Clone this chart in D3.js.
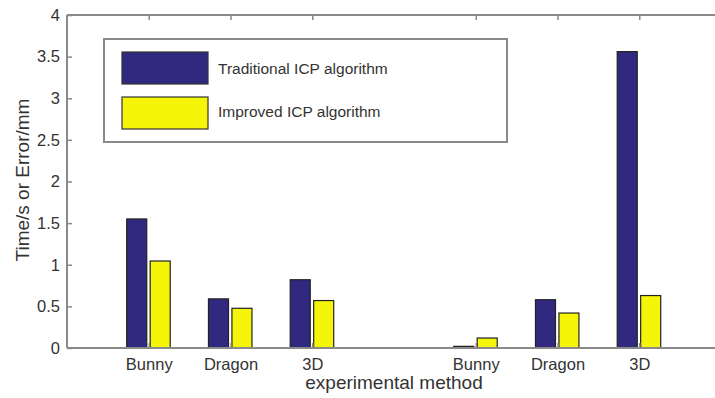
<!DOCTYPE html>
<html>
<head>
<meta charset="utf-8">
<script src="https://cdn.jsdelivr.net/npm/d3@7"></script>
<style>
  body { margin: 0; background: #fff; }
  text { font-family: "Liberation Sans", Arial, sans-serif; }
</style>
</head>
<body>
<svg width="715" height="398"></svg>
<script>
// x positions 1..7, slot 4 is the empty gap between the two groups
var positions = [1, 2, 3, 5, 6, 7]
var categories = ['Bunny', 'Dragon', '3D', 'Bunny', 'Dragon', '3D']
var traditional = [1.55, 0.59, 0.82, 0.02, 0.58, 3.56]
var improved = [1.045, 0.477, 0.57, 0.12, 0.42, 0.63]
var seriesNames = ['Traditional ICP algorithm', 'Improved ICP algorithm']
var yTicks = [0, 0.5, 1, 1.5, 2, 2.5, 3, 3.5, 4]

var colors = ['#31297f', '#f5f50a']
var axisColor = '#8a8a8a'
var textColor = '#333'

var svg = d3.select('svg')

var x = d3.scaleLinear().domain([0, 8]).range([67, 721])
var y = d3.scaleLinear().domain([0, 4]).range([348, 15])

var barW = 0.245
var offsets = [-0.147, 0.14]

var rows = positions.map(function (p, i) {
  return { pos: p, label: categories[i], vals: [traditional[i], improved[i]] }
})

// bars
rows.forEach(function (r) {
  svg.selectAll(null)
  .data(r.vals)
  .enter()
  .append('rect')
  .attr('x', function (d, j) { return x(r.pos + offsets[j] - barW / 2) })
  .attr('width', x(barW) - x(0))
  .attr('y', function (d) { return y(d) })
  .attr('height', function (d) { return y(0) - y(d) })
  .attr('fill', function (d, j) { return colors[j] })
  .attr('stroke', '#222')
  .attr('stroke-width', 1.2)
})

// frame
var frame = svg.append('g')
frame.append('line').attr('x1', x(0)).attr('x2', x(8)).attr('y1', y(0)).attr('y2', y(0))
frame.append('line').attr('x1', x(0)).attr('x2', x(8)).attr('y1', y(4)).attr('y2', y(4))
frame.append('line').attr('x1', x(0)).attr('x2', x(0)).attr('y1', y(0)).attr('y2', y(4))
frame.append('line').attr('x1', x(8)).attr('x2', x(8)).attr('y1', y(0)).attr('y2', y(4))
frame.selectAll('line').attr('stroke', axisColor).attr('stroke-width', 2)

// y axis, ticks pointing inward
var yAxis = svg.append('g')
.attr('transform', 'translate(' + x(0) + ',0)')
.call(d3.axisRight(y).tickValues(yTicks).tickSize(5).tickFormat(d3.format('')))
yAxis.select('.domain').remove()
yAxis.selectAll('line').attr('stroke', axisColor).attr('stroke-width', 1.5)
yAxis.selectAll('text')
.attr('x', -7)
.attr('text-anchor', 'end')
.attr('fill', textColor)
.style('font-size', '16.5px')

// x axis, ticks inward at bottom and top
var xAxis = svg.append('g')
.attr('transform', 'translate(0,' + y(0) + ')')
.call(d3.axisTop(x).tickValues(positions).tickSize(5).tickFormat(function (d) {
  return categories[positions.indexOf(d)]
}))
xAxis.select('.domain').remove()
xAxis.selectAll('line').attr('stroke', axisColor).attr('stroke-width', 1.5)
xAxis.selectAll('text')
.attr('y', 22)
.attr('fill', textColor)
.style('font-size', '16.5px')

var xTop = svg.append('g')
.attr('transform', 'translate(0,' + y(4) + ')')
.call(d3.axisBottom(x).tickValues(positions).tickSize(5).tickFormat(''))
xTop.select('.domain').remove()
xTop.selectAll('line').attr('stroke', axisColor).attr('stroke-width', 1.5)

// axis titles
svg.append('text')
.attr('x', 394).attr('y', 389)
.attr('text-anchor', 'middle')
.attr('fill', textColor)
.style('font-size', '19px')
.text('experimental method')

svg.append('text')
.attr('transform', 'translate(29,180) rotate(-90)')
.attr('text-anchor', 'middle')
.attr('fill', textColor)
.style('font-size', '19px')
.text('Time/s or Error/mm')

// legend
var legend = svg.append('g')
legend.append('rect')
.attr('x', 104).attr('y', 39).attr('width', 403).attr('height', 103)
.attr('fill', '#fff').attr('stroke', axisColor).attr('stroke-width', 2)

var items = legend.selectAll('g.item')
.data(seriesNames)
.enter()
.append('g')
.attr('transform', function (d, i) { return 'translate(122,' + (52 + i * 45) + ')' })

items.append('rect')
.attr('width', 86).attr('height', 32)
.attr('fill', function (d, i) { return colors[i] })
.attr('stroke', '#333').attr('stroke-width', 1.2)

items.append('text')
.attr('x', 96).attr('y', function (d, i) { return i ? 20 : 22 })
.attr('fill', textColor)
.style('font-size', '15.5px')
.text(function (d) { return d })
</script>
</body>
</html>
